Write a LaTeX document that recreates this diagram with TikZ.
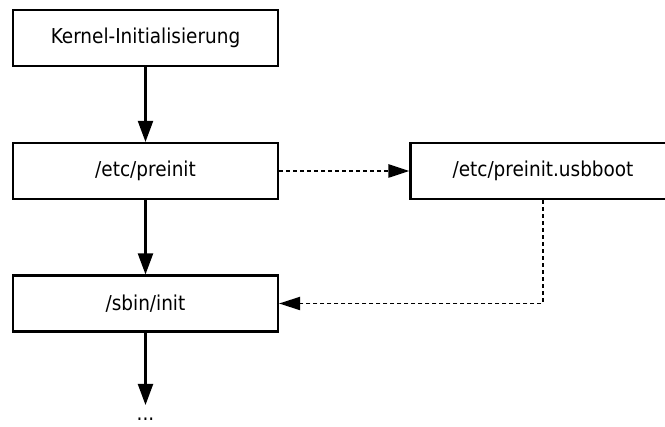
\documentclass[tikz,border=0pt]{standalone}
\usepackage{fontspec}
\setmainfont{DejaVu Sans Condensed}
\usetikzlibrary{arrows.meta}
\begin{document}
\begin{tikzpicture}[x=1pt,y=-1pt,
  stagebox/.style={draw,line width=2.1pt,minimum width=265pt,minimum height=56pt,
    inner sep=0pt,font=\fontsize{20.5}{24}\selectfont},
  flow/.style={line width=2.1pt,-{Triangle[length=21pt,width=15pt]}},
  optflow/.style={line width=2.4pt,dash pattern=on 4pt off 3pt,-{Triangle[length=21pt,width=13pt]}},
  optflowthin/.style={line width=1.9pt,dash pattern=on 4pt off 3pt,-{Triangle[length=21pt,width=13pt]}}]
\useasboundingbox (0,0) rectangle (665,427);
\clip (0,0) rectangle (665,427);
\node[stagebox] (kernel) at (145.5,38) {Kernel-Initialisierung};
\node[stagebox] (preinit) at (145.5,171) {/etc/preinit};
\node[stagebox] (usbboot) at (543,171) {/etc/preinit.usbboot};
\node[stagebox] (init) at (145.5,303.5) {/sbin/init};
\node[anchor=base,inner sep=0pt,font=\fontsize{20.5}{24}\selectfont] (more) at (145.5,421) {...};
\coordinate (moreend) at (145.5,405);
\coordinate (bend) at (543,303.5);
\draw[flow] (kernel) -- (preinit);
\draw[flow] (preinit) -- (init);
\draw[flow] (init) -- (moreend);
\draw[optflow] (preinit) -- (usbboot);
\draw[optflowthin] (usbboot.south) -- (bend) -- (init.east);
\end{tikzpicture}
\end{document}
